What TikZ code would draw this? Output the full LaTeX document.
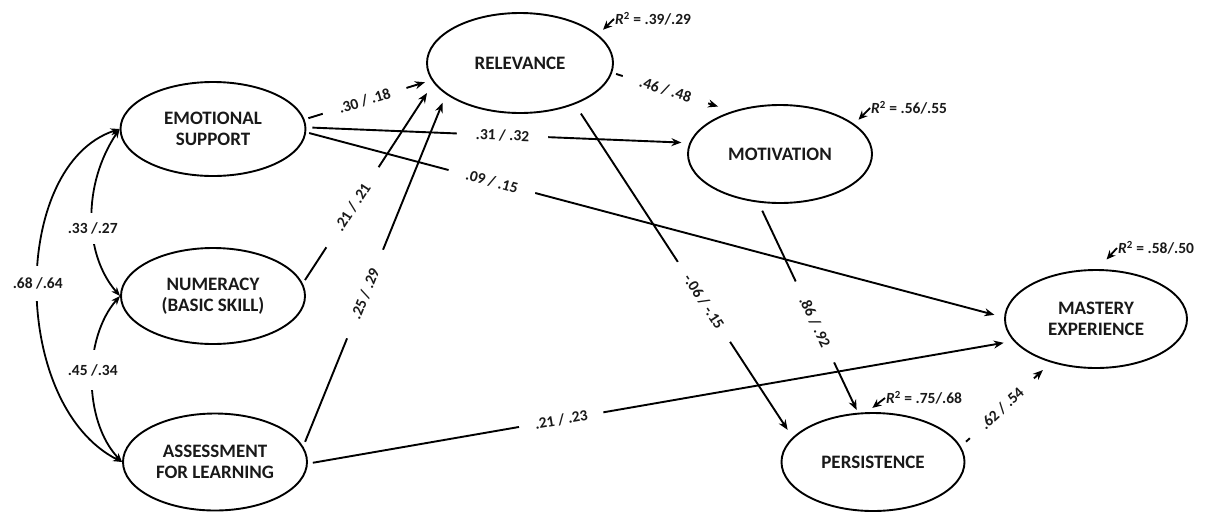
\documentclass[tikz,border=0pt]{standalone}
\usepackage{fontspec}
\setmainfont{Carlito}
\usetikzlibrary{shapes.geometric,arrows.meta}
\begin{document}
\begin{tikzpicture}[x=1pt,y=-1pt,
  lv/.style={draw, ellipse, line width=1.9pt, inner sep=0pt, align=center,
    font=\fontsize{19}{21}\selectfont\bfseries, text=black!90},
  conn/.style={line width=1.9pt, -{Stealth[length=10pt,width=8pt]}},
  r2arr/.style={line width=1.8pt, -{Stealth[length=9pt,width=8pt]}},
  cov/.style={line width=1.8pt, {Stealth[length=9pt,width=7pt]}-{Stealth[length=9pt,width=7pt]}},
  lab/.style={fill=white, sloped, inner ysep=2pt, font=\fontsize{15.5}{18}\selectfont\bfseries, text=black!90},
  clab/.style={fill=white, inner xsep=1pt, font=\fontsize{15.5}{18}\selectfont\bfseries, text=black!90},
  r2/.style={anchor=west, inner sep=1pt, font=\fontsize{15.5}{18}\selectfont\bfseries, text=black!90}
]
\useasboundingbox (0,0) rectangle (1210,512);

% latent variables
\node[lv, minimum width=185pt, minimum height=94pt] (es)  at (213,129) {EMOTIONAL\\SUPPORT};
\node[lv, minimum width=184pt, minimum height=96pt] (num) at (213,296) {NUMERACY\\(BASIC SKILL)};
\node[lv, minimum width=184pt, minimum height=97pt] (afl) at (215,462) {ASSESSMENT\\FOR LEARNING};
\node[lv, minimum width=186pt, minimum height=100pt] (rel) at (520,63) {RELEVANCE};
\node[lv, minimum width=184pt, minimum height=98pt] (mot) at (780,154) {MOTIVATION};
\node[lv, minimum width=182pt, minimum height=98pt] (mas) at (1096,319) {MASTERY\\EXPERIENCE};
\node[lv, minimum width=183pt, minimum height=98pt] (per) at (873,462) {PERSISTENCE};

% R squared labels
\node[r2] (r2rel) at (614,19) {{\itshape R}\textsuperscript{2} = .39/.29};
\node[r2] (r2mot) at (870,108) {{\itshape R}\textsuperscript{2} = .56/.55};
\node[r2] (r2mas) at (1117,248) {{\itshape R}\textsuperscript{2} = .58/.50};
\node[r2] (r2per) at (885,398) {{\itshape R}\textsuperscript{2} = .75/.68};

\draw[r2arr, shorten >=7pt] (r2rel.west) -- (rel.20);
\draw[r2arr, shorten >=6pt] (r2mot.west) -- (mot.22);
\draw[r2arr, shorten >=13pt] (r2mas.west) -- (mas.88);
\draw[r2arr, shorten >=7pt] (r2per.west) -- (per.97);

% covariances
\draw[cov] (es.180) .. controls (82,185) and (84,255) .. node[clab, pos=.56, inner ysep=10pt]{.33 /.27} (num.180);
\draw[cov] (num.180) .. controls (83,338) and (83,421) .. node[clab, pos=.45, inner ysep=14pt]{.45 /.34} (afl.180);
\draw[cov] (es.180) .. controls (10,165) and (10,405) .. node[clab, pos=.49, inner ysep=12pt]{.68 /.64} (afl.180);

% paths
\draw[conn, shorten <=4pt, shorten >=7pt] (es.6) -- node[lab, pos=.473, inner xsep=17pt]{.30 / .18} (rel.191);
\draw[conn, shorten <=6pt, shorten >=8pt] (es.1) -- node[lab, pos=.512, inner xsep=19pt]{.31 / .32} (mot.173);
\draw[conn, shorten <=3pt, shorten >=10pt] (es.358) -- node[lab, pos=.266, inner xsep=18pt]{.09 / .15} (mas.179);
\draw[conn, shorten <=4pt, shorten >=12pt] (num.8) -- node[lab, pos=.38, inner xsep=21pt]{.21 / .21} (rel.193);
\draw[conn, shorten <=5pt, shorten >=9pt] (afl.10) -- node[lab, pos=.433, inner xsep=21pt]{.25 / .29} (rel.203);
\draw[conn, shorten <=5pt, shorten >=10pt] (afl.359) -- node[lab, pos=.359, inner xsep=16pt]{.21 / .23} (mas.195);
\draw[conn, shorten <=4pt, shorten >=15pt] (rel.354) -- node[lab, pos=.443, inner xsep=18pt]{.46 / .48} (mot.138);
\draw[conn, shorten <=11pt, shorten >=9pt] (rel.323) -- node[lab, pos=.593, inner xsep=17pt]{-.06 / -.15} (per.163);
\draw[conn, shorten <=9pt, shorten >=3pt] (mot.246) -- node[lab, pos=.568, inner xsep=18pt]{.86 / .92} (per.107);
\draw[conn, shorten <=7pt, shorten >=11pt] (per.10) -- node[lab, pos=.455, inner xsep=17pt]{.62 / .54} (mas.224);
\end{tikzpicture}
\end{document}
